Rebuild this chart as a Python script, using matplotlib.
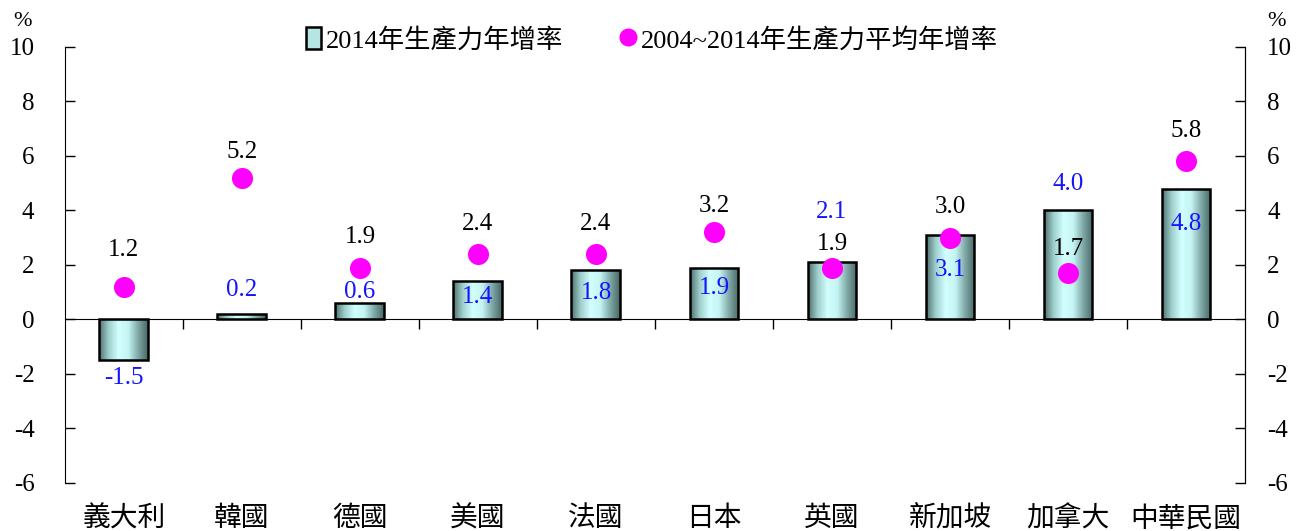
import numpy as np
import matplotlib
matplotlib.use("Agg")
import matplotlib.pyplot as plt
from matplotlib.patches import Patch
from matplotlib.lines import Line2D
from matplotlib.colors import LinearSegmentedColormap

# data
countries = ["義大利", "韓國", "德國", "美國", "法國", "日本", "英國", "新加坡", "加拿大", "中華民國"]
growth_2014 = [-1.5, 0.2, 0.6, 1.4, 1.8, 1.9, 2.1, 3.1, 4.0, 4.8]
growth_avg = [1.2, 5.2, 1.9, 2.4, 2.4, 3.2, 1.9, 3.0, 1.7, 5.8]
yticks = [-6, -4, -2, 0, 2, 4, 6, 8, 10]

# label placement (data units), hand tuned like the original
bar_label_y = [-2.14, 1.08, 1.02, 0.81, 0.99, 1.14, 3.95, 1.83, 4.98, 3.52]
dot_label_y = [2.54, 6.14, 3.03, 3.49, 3.49, 4.18, 2.78, 4.14, 2.57, 6.92]

num_font = "Liberation Serif"
cjk_font = ["Liberation Serif", "Noto Sans CJK TC"]
blue = "#1414ff"
magenta = "#ff00ff"

fig = plt.figure(figsize=(12.97, 5.31), dpi=100)
ax = fig.add_axes([0.0501, 0.0904, 0.9098, 0.8211])

x = np.arange(len(countries))
bars = ax.bar(x, growth_2014, width=0.415, facecolor="none", edgecolor="black",
              linewidth=1.8, zorder=3)

# horizontal shading inside each bar
cmap = LinearSegmentedColormap.from_list(
    "barshade", ["#4f6f6d", "#9fd0cd", "#d2ffff", "#c4f4f3", "#7fa9a7", "#4a6866"])
grad = np.linspace(0, 1, 256).reshape(1, -1)
for b in bars:
    x0, y0 = b.get_x(), b.get_y()
    w, h = b.get_width(), b.get_height()
    im = ax.imshow(grad, cmap=cmap, aspect="auto", zorder=2,
                   extent=[x0, x0 + w, min(y0, y0 + h), max(y0, y0 + h)])
    im.set_clip_path(b)

ax.scatter(x, growth_avg, s=230, color=magenta, zorder=4, linewidths=0)

for i in x:
    ax.text(i, bar_label_y[i], f"{growth_2014[i]:.1f}", color=blue, ha="center",
            va="center", fontsize=18, family=num_font, zorder=5)
    ax.text(i, dot_label_y[i], f"{growth_avg[i]:.1f}", color="black", ha="center",
            va="center", fontsize=18, family=num_font, zorder=5)

ax.set_xlim(-0.5, len(countries) - 0.5)
ax.set_ylim(-6, 10)

# axes styling
ax.spines["top"].set_visible(False)
ax.spines["bottom"].set_position(("data", 0))
ax.set_xticks([])
ax.set_xticks(np.arange(0.5, len(countries) - 0.5), minor=True)
ax.tick_params(axis="x", which="minor", direction="out", length=7, width=1)
ax.set_yticks(yticks)
ax.set_yticklabels([str(t) for t in yticks])
ax.tick_params(axis="y", direction="in", length=7, width=1, pad=22, labelsize=18)
for lab in ax.get_yticklabels():
    lab.set_family(num_font)

# right hand axis mirrors the left one
ax2 = ax.twinx()
ax2.set_ylim(ax.get_ylim())
ax2.set_yticks(yticks)
ax2.set_yticklabels([str(t) for t in yticks])
ax2.tick_params(axis="y", direction="in", length=7, width=1, pad=16, labelsize=18)
for lab in ax2.get_yticklabels():
    lab.set_family(num_font)
for side in ["top", "bottom", "left"]:
    ax2.spines[side].set_visible(False)

for i, name in enumerate(countries):
    ax.text(i, -0.083, name, transform=ax.get_xaxis_transform(), ha="center",
            va="center", fontsize=20, family=cjk_font)

fig.text(22 / 1297, 1 - 22 / 531, "%", ha="center", va="center", fontsize=16, family=num_font)
fig.text(1277 / 1297, 1 - 22 / 531, "%", ha="center", va="center", fontsize=16, family=num_font)

handles = [
    Patch(facecolor="#b5e6e4", edgecolor="black", linewidth=1.8),
    Line2D([], [], marker="o", linestyle="none", markersize=13,
           markerfacecolor=magenta, markeredgewidth=0),
]
labels = ["2014年生產力年增率", "2004~2014年生產力平均年增率"]
fig.legend(handles, labels, loc="center", bbox_to_anchor=(652 / 1297, 1 - 40 / 531),
           ncol=2, frameon=False, prop={"family": cjk_font, "size": 19},
           handlelength=0.55, handleheight=0.9, handletextpad=0.2,
           columnspacing=2.2)

fig.savefig("out.png", dpi=100)
